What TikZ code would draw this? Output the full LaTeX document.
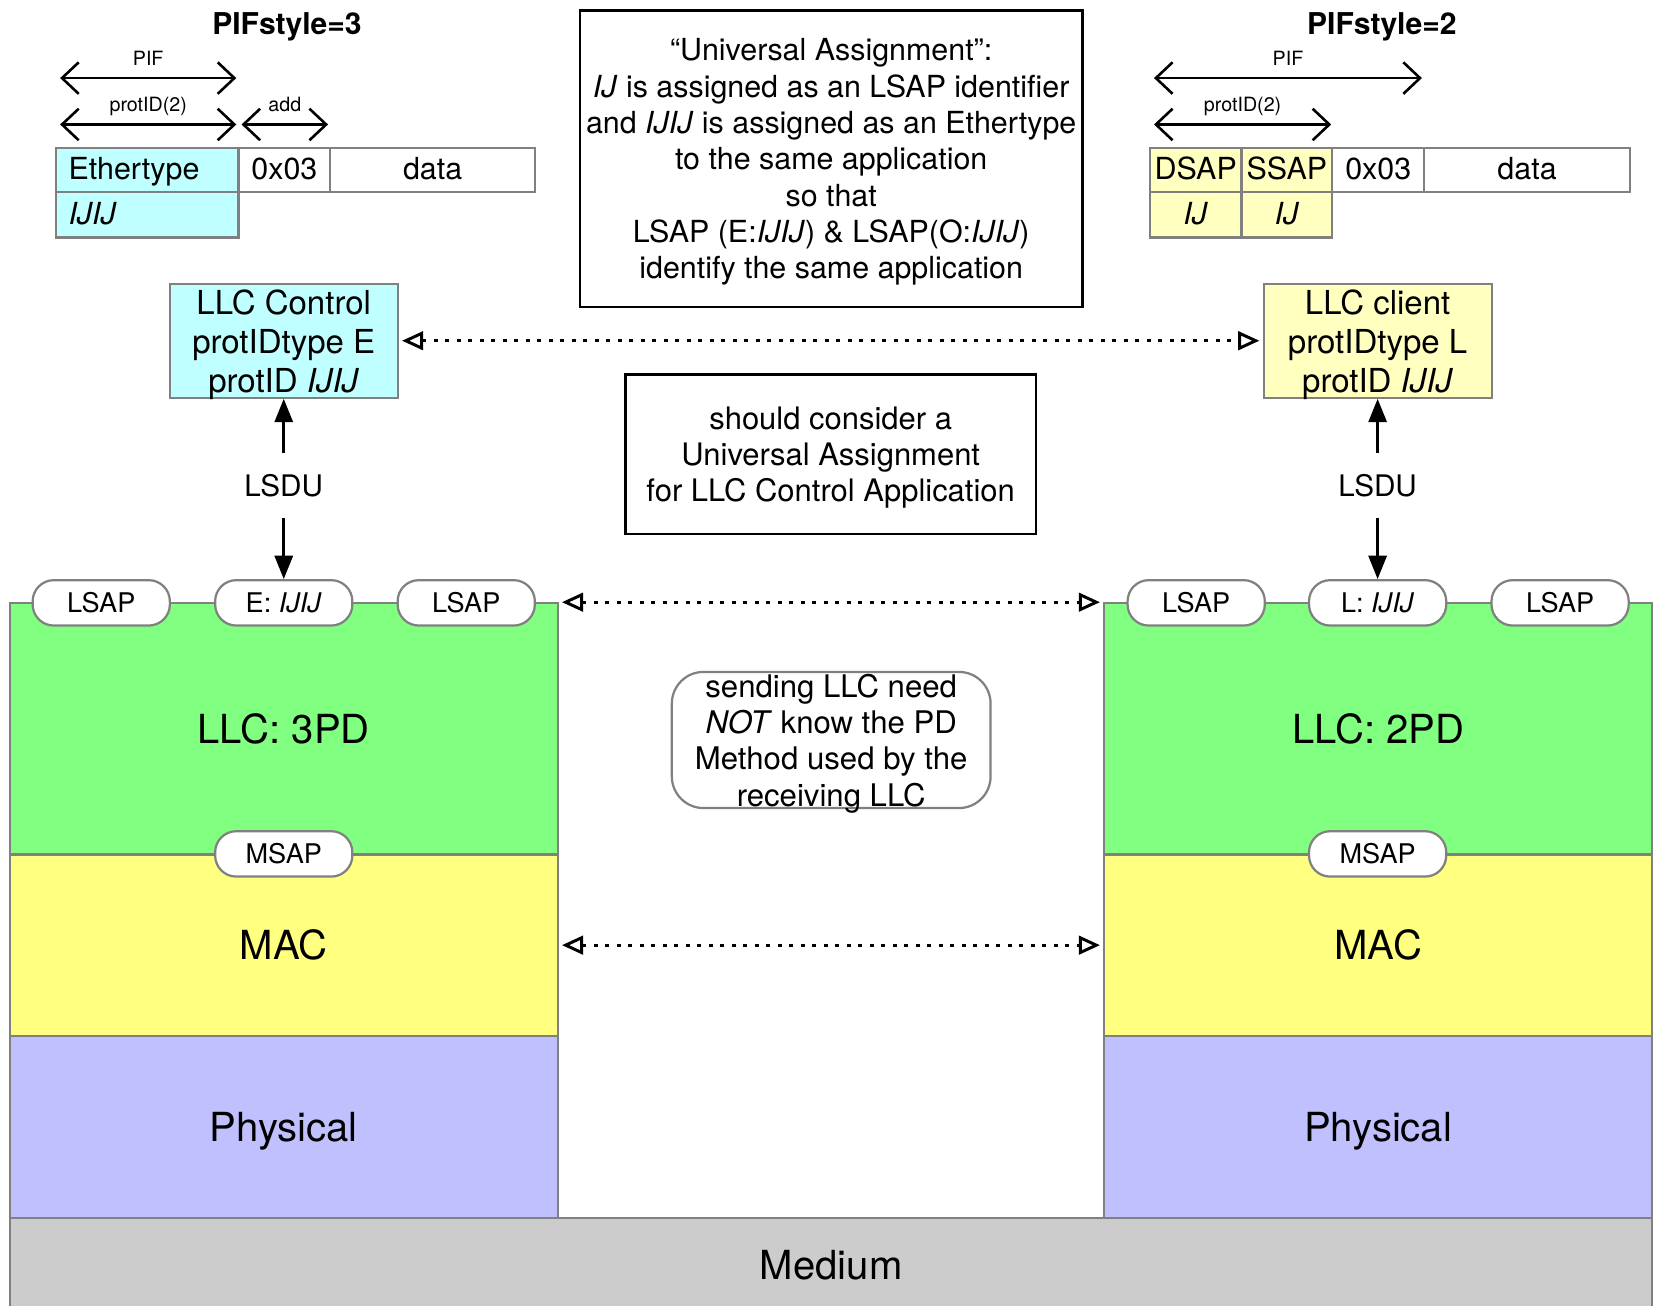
\documentclass[tikz,border=0pt]{standalone}
\usepackage{fontspec}
\setmainfont{TeX Gyre Heros}
\usepackage{tikz}
\usetikzlibrary{positioning,arrows.meta}

\definecolor{edgegray}{HTML}{808080}
\definecolor{llcgreen}{HTML}{80FF80}
\definecolor{macyellow}{HTML}{FFFF80}
\definecolor{phyblue}{HTML}{C0C0FF}
\definecolor{medgray}{HTML}{CCCCCC}
\definecolor{ethcyan}{HTML}{C0FFFF}
\definecolor{sapyellow}{HTML}{FFFFC0}

\begin{document}
\begin{tikzpicture}[x=0.01cm, y=-0.01cm,
    layer/.style={draw=edgegray, line width=0.6pt, minimum width=5.19cm, inner sep=0pt,
        text height=0.27cm, text depth=0pt, font=\fontsize{10.8}{13}\selectfont},
    sap/.style={draw=edgegray, line width=0.6pt, fill=white, rounded corners=0.2cm,
        minimum width=1.3cm, minimum height=0.43cm, inner sep=0pt,
        font=\fontsize{7.3}{8.5}\selectfont},
    cell/.style={draw=edgegray, line width=0.6pt, minimum height=0.42cm, inner sep=0pt,
        outer sep=0pt, text height=0.2cm, text depth=0.02cm, font=\fontsize{8.2}{9.8}\selectfont},
    appbox/.style={draw=edgegray, line width=0.6pt, minimum width=2.16cm, minimum height=1.08cm,
        inner sep=0pt, align=center, text depth=0pt, font=\fontsize{8.9}{10.5}\selectfont},
    note/.style={draw, line width=0.6pt, inner sep=0pt, align=center, text depth=0pt,
        font=\fontsize{8.2}{9.8}\selectfont},
    small/.style={inner sep=0pt, text depth=0pt, font=\fontsize{5.3}{6}\selectfont},
    title/.style={inner sep=0pt, text depth=0pt, font=\bfseries\fontsize{8.1}{9.5}\selectfont},
    dim/.style={line width=0.7pt,
        {Straight Barb[length=4.5pt,width=8.5pt]}-{Straight Barb[length=4.5pt,width=8.5pt]}},
    req/.style={line width=0.7pt, -{Triangle[length=6.3pt,width=4.9pt]}},
    peer/.style={line width=0.8pt, dash pattern=on 1pt off 2.1pt,
        {Triangle[open,length=5.7pt,width=5pt]}-{Triangle[open,length=5.7pt,width=5pt]},
        shorten <=0.03cm, shorten >=0.03cm}]

    \useasboundingbox (0,0) rectangle (1568,1238);

    % layer stacks
    \node[layer, fill=llcgreen, minimum height=2.38cm] (llc3) at (269,691) {LLC: 3PD};
    \node[layer, fill=macyellow, minimum height=1.72cm] (mac3) at (269,896) {MAC};
    \node[layer, fill=phyblue, minimum height=1.73cm] (phy3) at (269,1068.5) {Physical};

    \node[layer, fill=llcgreen, minimum height=2.38cm] (llc2) at (1306.5,691) {LLC: 2PD};
    \node[layer, fill=macyellow, minimum height=1.72cm] (mac2) at (1306.5,896) {MAC};
    \node[layer, fill=phyblue, minimum height=1.73cm] (phy2) at (1306.5,1068.5) {Physical};

    \node[layer, fill=medgray, minimum width=15.56cm, minimum height=0.88cm] (medium) at (788,1199) {Medium};

    % service access points
    \node[sap] (sap3a) at (96,571.5) {LSAP};
    \node[sap] (sapE) at (269,571.5) {E: \textit{IJIJ}};
    \node[sap] (sap3b) at (442,571.5) {LSAP};
    \node[sap] (msap3) at (269,809.5) {MSAP};

    \node[sap] (sap2a) at (1134,571.5) {LSAP};
    \node[sap] (sapL) at (1306,571.5) {L: \textit{IJIJ}};
    \node[sap] (sap2b) at (1479,571.5) {LSAP};
    \node[sap] (msap2) at (1306,809.5) {MSAP};

    % frame formats
    \node[title] (pif3) at (272,22) {PIFstyle=3};
    \node[cell, fill=ethcyan, minimum width=1.73cm, text width=1.49cm, align=left] (eth) at (139.5,161) {Ethertype};
    \node[cell, right=0pt of eth, minimum width=0.87cm] (ctl3) {0x03};
    \node[cell, right=0pt of ctl3, minimum width=1.94cm] (data3) {data};
    \node[cell, below=0pt of eth, fill=ethcyan, minimum width=1.73cm, minimum height=0.43cm,
        text width=1.49cm, align=left] (ijij) {\textit{IJIJ}};

    \node[title] (pif2) at (1310,22) {PIFstyle=2};
    \node[cell, fill=sapyellow, minimum width=0.87cm] (dsap) at (1133.5,161) {DSAP};
    \node[cell, right=0pt of dsap, fill=sapyellow, minimum width=0.86cm] (ssap) {SSAP};
    \node[cell, right=0pt of ssap, minimum width=0.87cm] (ctl2) {0x03};
    \node[cell, right=0pt of ctl2, minimum width=1.95cm] (data2) {data};
    \node[cell, below=0pt of dsap, fill=sapyellow, minimum width=0.87cm, minimum height=0.43cm] (ijd) {\textit{IJ}};
    \node[cell, below=0pt of ssap, fill=sapyellow, minimum width=0.86cm, minimum height=0.43cm] (ijs) {\textit{IJ}};

    \coordinate (pif3a) at (57,74);
    \coordinate (pif3b) at (224,74);
    \coordinate (pid3a) at (57,118);
    \coordinate (pid3b) at (224,118);
    \coordinate (add3a) at (229,118);
    \coordinate (add3b) at (311,118);
    \coordinate (pif2a) at (1094,74);
    \coordinate (pif2b) at (1348,74);
    \coordinate (pid2a) at (1094,118);
    \coordinate (pid2b) at (1262,118);

    \draw[dim] (pif3a) -- node[small, above=0.11cm] {PIF} (pif3b);
    \draw[dim] (pid3a) -- node[small, above=0.11cm] {protID(2)} (pid3b);
    \draw[dim] (add3a) -- node[small, above=0.11cm] {add} (add3b);
    \draw[dim] (pif2a) -- node[small, above=0.11cm] {PIF} (pif2b);
    \draw[dim] (pid2a) -- node[small, above=0.11cm] {protID(2)} (pid2b);

    % notes
    \node[note, minimum width=4.76cm, minimum height=2.81cm] (ua) at (788,150.5)
        {“Universal Assignment”:\\
         \textit{IJ} is assigned as an LSAP identifier\\
         and \textit{IJIJ} is assigned as an Ethertype\\
         to the same application\\
         so that\\
         LSAP (E:\textit{IJIJ}) \& LSAP(O:\textit{IJIJ})\\
         identify the same application};
    \node[note, minimum width=3.89cm, minimum height=1.51cm,
        font=\fontsize{8.35}{9.8}\selectfont] (consider) at (787.5,430.5)
        {should consider a\\Universal Assignment\\for LLC Control Application};
    \node[note, draw=edgegray, rounded corners=0.3cm, minimum width=3.02cm, minimum height=1.29cm,
        font=\fontsize{8.4}{9.8}\selectfont] (sending) at (788,701.5)
        {sending LLC need\\\textit{NOT} know the PD\\Method used by the\\receiving LLC};

    % LLC clients
    \node[appbox, fill=ethcyan] (ctlE) at (269,323) {LLC Control\\protIDtype E\\protID \textit{IJIJ}};
    \node[appbox, fill=sapyellow] (clientL) at (1306,323) {LLC client\\protIDtype L\\protID \textit{IJIJ}};

    \node[inner sep=0pt, minimum height=0.6cm, font=\fontsize{8}{9.5}\selectfont] (lsdu3) at (269,460) {LSDU};
    \node[inner sep=0pt, minimum height=0.6cm, font=\fontsize{8}{9.5}\selectfont] (lsdu2) at (1306,460) {LSDU};

    \draw[req] (lsdu3.north) -- (ctlE.south);
    \draw[req] (lsdu3.south) -- (sapE.north);
    \draw[req] (lsdu2.north) -- (clientL.south);
    \draw[req] (lsdu2.south) -- (sapL.north);

    % peer relations
    \draw[peer] (ctlE.east) -- (clientL.west);
    \draw[peer] (llc3.north east) -- (llc2.north west);
    \draw[peer] (mac3.east) -- (mac2.west);

\end{tikzpicture}
\end{document}
